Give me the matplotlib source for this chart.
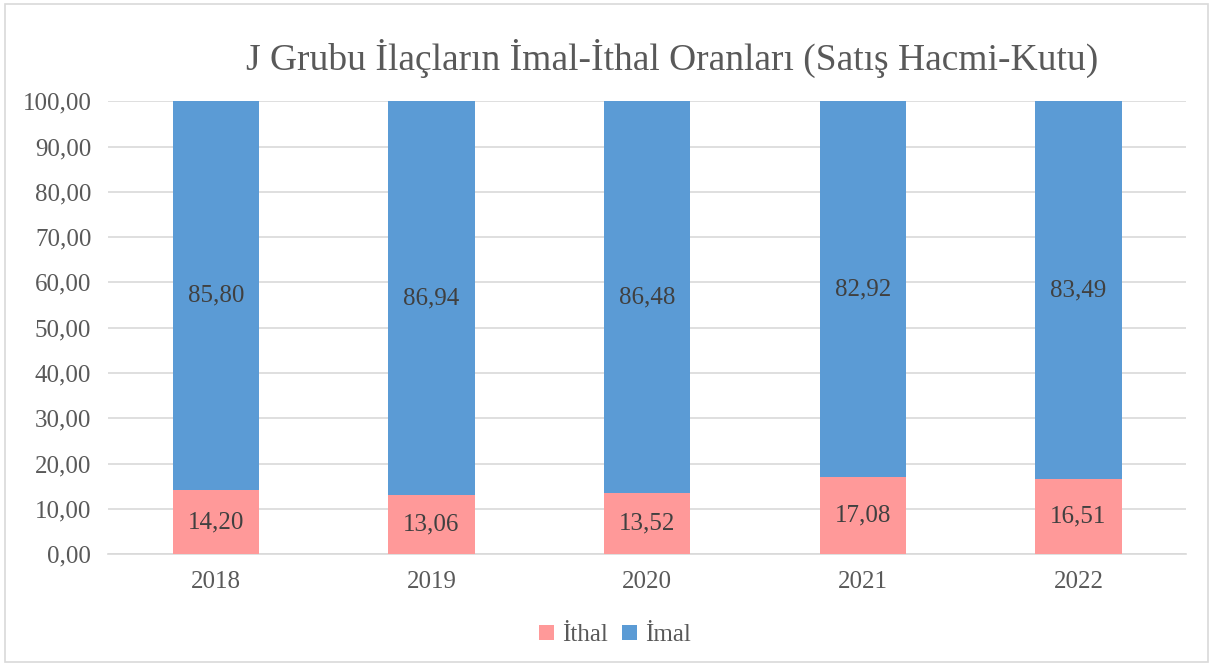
import matplotlib
matplotlib.use("Agg")
import matplotlib.pyplot as plt
from matplotlib.patches import Rectangle

years = ["2018", "2019", "2020", "2021", "2022"]
ithal = [14.20, 13.06, 13.52, 17.08, 16.51]
imal = [85.80, 86.94, 86.48, 82.92, 83.49]
yticks = [0, 10, 20, 30, 40, 50, 60, 70, 80, 90, 100]

plt.rcParams['font.family'] = ['Liberation Serif', 'DejaVu Serif']

fig = plt.figure(figsize=(12.13, 6.66), dpi=100)
ax = fig.add_axes([0.089, 0.168, 0.889, 0.680])

c_ithal = '#FF9999'
c_imal = '#5B9BD5'
x = list(range(len(years)))
b1 = ax.bar(x, ithal, width=0.4, color=c_ithal, label='İthal', zorder=3)
b2 = ax.bar(x, imal, width=0.4, bottom=ithal, color=c_imal, label='İmal', zorder=3)

for i in x:
    ax.text(i, ithal[i] / 2, f"{ithal[i]:.2f}".replace('.', ','), ha='center', va='center',
            fontsize=18, color='#404040', zorder=4)
    ax.text(i, ithal[i] + imal[i] / 2, f"{imal[i]:.2f}".replace('.', ','), ha='center', va='center',
            fontsize=18, color='#404040', zorder=4)

ax.set_xlim(-0.5, len(years) - 0.5)
ax.set_ylim(0, 100)
ax.set_yticks(yticks)
ax.set_yticklabels([f"{v:.2f}".replace('.', ',') for v in yticks])
ax.set_xticks(x)
ax.set_xticklabels(years)
ax.tick_params(axis='both', length=0, labelsize=18, colors='#595959')
ax.tick_params(axis='x', pad=12)
ax.tick_params(axis='y', pad=12)
ax.yaxis.grid(True, color='#D9D9D9', linewidth=1.2, zorder=0)
for s in ['top', 'right', 'left']:
    ax.spines[s].set_visible(False)
ax.spines['bottom'].set_color('#D9D9D9')
ax.spines['bottom'].set_linewidth(1.2)

fig.text(0.554, 0.913, "J Grubu İlaçların İmal-İthal Oranları (Satış Hacmi-Kutu)",
         ha='center', va='center', fontsize=27, color='#595959')

fig.legend(handles=[b1, b2], loc='center', bbox_to_anchor=(0.507, 0.046), ncol=2, frameon=False,
           fontsize=18, labelcolor='#595959', handlelength=0.6, handleheight=0.6,
           handletextpad=0.3, columnspacing=0.6)

fig.patches.append(Rectangle((0.004, 0.006), 0.992, 0.988, transform=fig.transFigure,
                             fill=False, edgecolor='#D9D9D9', linewidth=1.2))

fig.savefig("out.png", dpi=100)
